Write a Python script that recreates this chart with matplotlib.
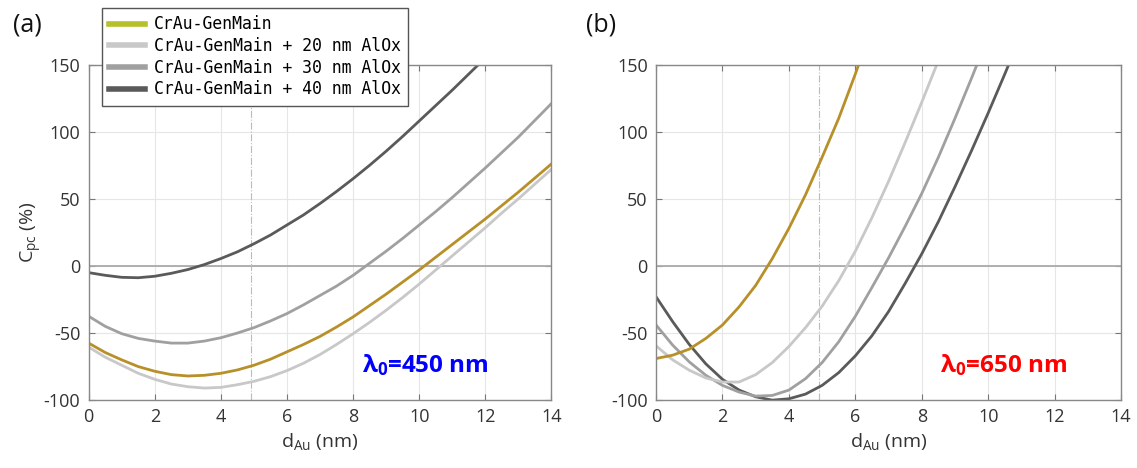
import matplotlib
matplotlib.use('Agg')
import matplotlib.pyplot as plt
import numpy as np

plt.rcParams['font.family'] = ['Open Sans', 'DejaVu Sans']
plt.rcParams['mathtext.fontset'] = 'custom'
plt.rcParams['mathtext.rm'] = 'Open Sans'
plt.rcParams['mathtext.it'] = 'Open Sans:italic'
plt.rcParams['mathtext.bf'] = 'Open Sans:bold'
plt.rcParams['axes.unicode_minus'] = False

# thickness grid (nm)
d_au = np.arange(0, 14.01, 0.5)

labels = ['CrAu-GenMain',
          'CrAu-GenMain + 20 nm AlOx',
          'CrAu-GenMain + 30 nm AlOx',
          'CrAu-GenMain + 40 nm AlOx']

# (a) lambda0 = 450 nm
a_main = [-57.5, -64.5, -70, -75, -78.5, -81, -82, -81.5, -80, -77.5, -74, -69.5, -64, -58.5, -52.5,
          -45.5, -38, -29.5, -21, -12, -3, 6.5, 16, 25.5, 35, 45, 55, 65.5, 76]
a_20 = [-60.5, -68, -74, -80, -84.5, -88, -90, -91, -90.5, -88.5, -86, -82.5, -78, -72.5, -66,
        -58.5, -50.5, -42, -33, -23.5, -13.5, -3, 7.5, 18, 28.5, 39.5, 50, 61, 72]
a_30 = [-37.5, -45, -50.5, -54, -56, -57.5, -57.5, -56, -53.5, -50, -46, -41, -35.5, -29, -22,
        -15, -7, 2, 11, 20.5, 30.5, 40.5, 51, 62, 73, 84.5, 96, 108.5, 121]
a_40 = [-5, -7, -8.5, -8.8, -7.7, -5.5, -2.7, 1, 5.5, 10.5, 16.5, 23, 30.5, 38, 46.5,
        55.5, 65, 75, 85.5, 96.5, 108, 119.5, 131, 143, 155, 167, 179, 191, 203]

# (b) lambda0 = 650 nm
b_main = [-69, -66.5, -62, -54, -44, -30.5, -14.5, 5.5, 28, 53, 81, 110, 143, 178, 214,
          250, 286, 322, 358, 394, 430, 466, 502, 538, 574, 610, 646, 682, 718]
b_20 = [-59.5, -70, -77.7, -83.5, -86.5, -86.5, -81, -72, -60, -46, -30, -11, 11, 36, 63,
        92, 122, 153, 184, 215, 246, 277, 308, 339, 370, 401, 432, 463, 494]
b_30 = [-44, -59, -71.5, -81.5, -89, -94, -97, -96.5, -92.5, -84, -72, -56.5, -37.5, -16, 6,
        29.5, 54, 81, 110, 140, 171, 202, 233, 264, 295, 326, 357, 388, 419]
b_40 = [-23, -41.5, -58.5, -73, -84.5, -92.5, -97.5, -100, -99, -95.5, -89, -79.5, -67, -52, -34,
        -13, 9, 33, 59, 86, 114, 143, 173, 203, 233, 263, 293, 323, 353]

colors = ['#b8902a', '#c8c8c8', '#a0a0a0', '#5a5a5a']
legend_colors = ['#b5c02a', '#c8c8c8', '#a0a0a0', '#5a5a5a']

fig = plt.figure(figsize=(11.37, 4.68), dpi=100)
ax0 = fig.add_axes([0.078, 0.145, 0.407, 0.717])
ax1 = fig.add_axes([0.577, 0.145, 0.409, 0.717])

panels = [(ax0, [a_main, a_20, a_30, a_40], r'$\mathbf{\lambda_0}$=450 nm', 'blue', '(a)', 0.011, 8.28),
          (ax1, [b_main, b_20, b_30, b_40], r'$\mathbf{\lambda_0}$=650 nm', 'red', '(b)', 0.515, 8.55)]

for ax, series, lam, lam_col, tag, tag_x, lam_x in panels:
    ax.axhline(0, color='#aaaaaa', lw=1.3, zorder=1)
    ax.axvline(4.9, color='#bbbbbb', lw=0.8, ls='-.', zorder=1)
    # draw dark first so gold ends on top like the reference
    for vals, c in zip(series[::-1], colors[::-1]):
        ax.plot(d_au, vals, color=c, lw=2.0, zorder=2, solid_joinstyle='round')
    ax.set_xlim(0, 14)
    ax.set_ylim(-100, 150)
    ax.set_xticks(np.arange(0, 15, 2))
    ax.set_yticks(np.arange(-100, 151, 50))
    ax.grid(True, color='#e6e6e6', lw=0.8)
    ax.set_axisbelow(True)
    ax.tick_params(direction='in', top=True, right=True, length=4, color='#777777',
                   labelsize=13, labelcolor='#333333', pad=6)
    for s in ax.spines.values():
        s.set_color('#888888')
        s.set_linewidth(1.0)
    ax.set_xlabel(r'd$_{\rm Au}$ (nm)', fontsize=14, color='#333333', labelpad=3)
    ax.text(lam_x, -74, lam, color=lam_col, fontsize=17.5,
            fontweight='bold', va='center', ha='left')
    fig.text(tag_x, 0.947, tag, fontsize=18, color='#111111', va='center', ha='left')

ax0.set_ylabel(r'C$_{\rm pc}$ (%)', fontsize=14, color='#333333', labelpad=0)

handles = [plt.Line2D([], [], color=c, lw=4) for c in legend_colors]
leg = fig.legend(handles, labels, loc='upper left', bbox_to_anchor=(0.0897, 0.983),
                 bbox_transform=fig.transFigure, borderaxespad=0,
                 prop={'family': 'DejaVu Sans Mono', 'size': 11.9}, frameon=True,
                 fancybox=False, edgecolor='#555555', framealpha=1, handlelength=2.15,
                 labelspacing=0.22, borderpad=0.45, handletextpad=0.55)
leg.get_frame().set_linewidth(1.0)
leg.set_zorder(10)

fig.savefig('out.png', dpi=100)
